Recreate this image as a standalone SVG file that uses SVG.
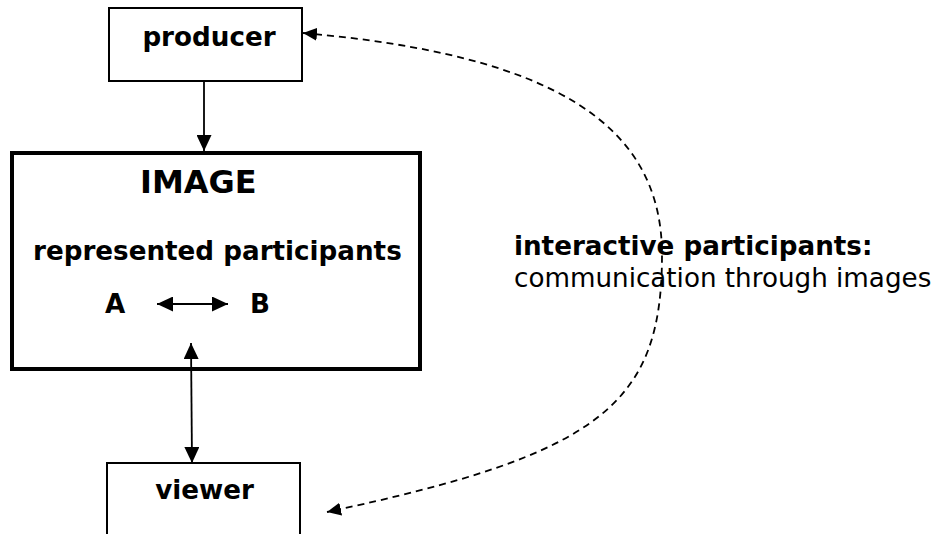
<svg xmlns="http://www.w3.org/2000/svg" width="939" height="534" viewBox="0 0 939 534">
<style>
.box{fill:#fff;stroke:#000;stroke-width:2}
.big{fill:#fff;stroke:#000;stroke-width:4}
.b{font-family:"DejaVu Sans",Verdana,sans-serif;font-weight:bold;font-size:26.2px;fill:#000}
.r{font-family:"DejaVu Sans",Verdana,sans-serif;font-size:26.2px;fill:#000}
.ln{fill:none;stroke:#000;stroke-width:1.8}
.dash{fill:none;stroke:#000;stroke-width:1.8;stroke-dasharray:7 5}
</style>
<defs>
<marker id="ah" markerUnits="userSpaceOnUse" viewBox="0 0 16 15" refX="16" refY="7.5" markerWidth="16" markerHeight="15" orient="auto-start-reverse">
<path d="M0,0 L16,7.5 L0,15 z" fill="#000"/>
</marker>
<marker id="ahd" markerUnits="userSpaceOnUse" viewBox="0 0 14 13" refX="14" refY="6.5" markerWidth="14" markerHeight="13" orient="auto-start-reverse">
<path d="M0,0 L14,6.5 L0,13 z" fill="#000"/>
</marker>
</defs>
<rect width="939" height="534" fill="#fff"/>
<g id="producer">
<rect class="box" x="109" y="8" width="193" height="73"/>
<text class="b" x="209" y="46" text-anchor="middle">producer</text>
</g>
<g id="image">
<rect class="big" x="12" y="153" width="408" height="216"/>
<text class="b" x="140" y="193" style="font-size:32px">IMAGE</text>
<text class="b" x="33" y="260">represented participants</text>
<text class="b" x="105" y="313">A</text>
<text class="b" x="250" y="313">B</text>
</g>
<g id="viewer">
<rect class="box" x="107" y="463" width="193" height="90"/>
<text class="b" x="204.5" y="499" text-anchor="middle">viewer</text>
</g>
<g id="label">
<text class="b" x="514" y="255">interactive participants:</text>
<text class="r" x="514" y="287">communication through images</text>
</g>
<g id="connectors">
<line class="ln" x1="204" y1="81" x2="204" y2="151" marker-end="url(#ah)"/>
<line class="ln" x1="157" y1="304" x2="228" y2="304" marker-start="url(#ah)" marker-end="url(#ah)"/>
<line class="ln" x1="191" y1="343" x2="192" y2="463" marker-start="url(#ah)" marker-end="url(#ah)"/>
<path class="dash" d="M303,33 C555,55 662,125 662,255 C662,405 600,454 327,512" marker-start="url(#ahd)" marker-end="url(#ahd)"/>
</g>
</svg>
